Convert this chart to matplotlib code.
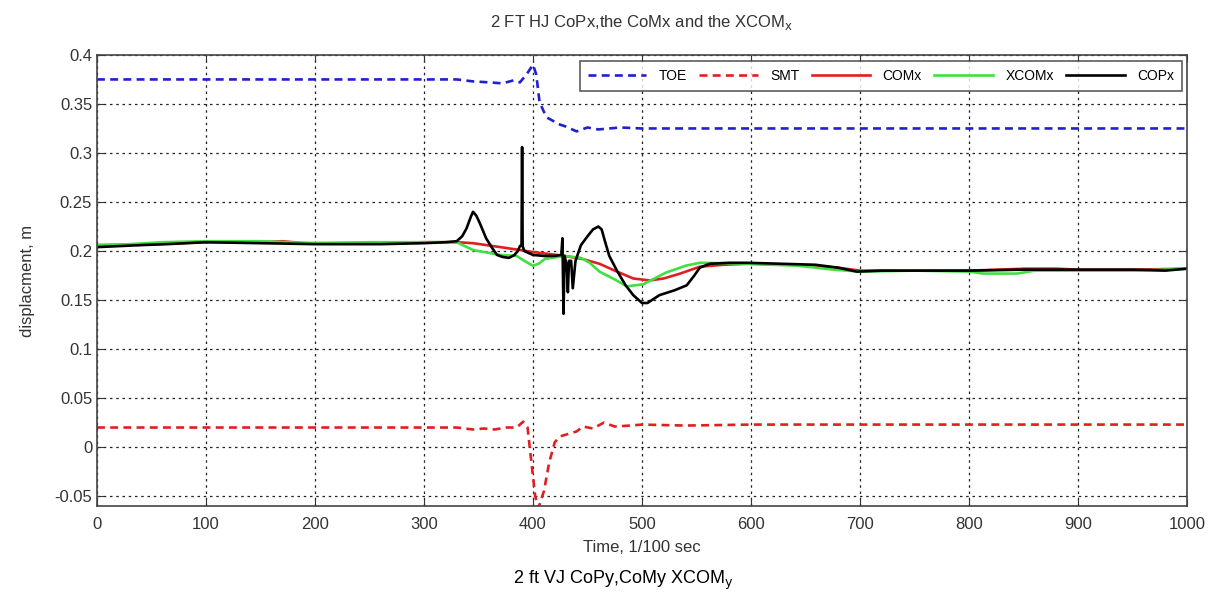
import matplotlib
matplotlib.use("Agg")
import matplotlib.pyplot as plt

plt.rcParams['font.family'] = ['Liberation Sans Narrow', 'Liberation Sans', 'DejaVu Sans']

# TOE (blue dashed)
t_toe = [0, 100, 200, 300, 330, 345, 360, 372, 382, 388, 394, 400, 403, 406, 410, 413, 418, 422, 430,
         440, 450, 460, 470, 480, 500, 600, 700, 800, 900, 1000]
toe = [0.375, 0.375, 0.375, 0.375, 0.375, 0.373, 0.372, 0.371, 0.374, 0.372, 0.380, 0.390, 0.380, 0.352,
       0.342, 0.336, 0.333, 0.330, 0.327, 0.322, 0.326, 0.324, 0.325, 0.326, 0.325, 0.325, 0.325, 0.325,
       0.325, 0.325]

# SMT (red dashed)
t_smt = [0, 100, 200, 300, 330, 345, 355, 365, 375, 385, 391, 395, 398, 402, 405, 410, 415, 420, 425,
         434, 440, 446, 455, 465, 475, 489, 500, 540, 600, 700, 800, 900, 1000]
smt = [0.020, 0.020, 0.020, 0.020, 0.020, 0.018, 0.019, 0.018, 0.020, 0.020, 0.026, 0.020, -0.010,
       -0.050, -0.062, -0.045, -0.015, 0.005, 0.011, 0.014, 0.016, 0.021, 0.019, 0.025, 0.021, 0.022,
       0.023, 0.022, 0.023, 0.023, 0.023, 0.023, 0.023]

# COMx (red solid)
t_com = [0, 50, 100, 150, 170, 190, 250, 300, 330, 345, 370, 400, 429, 445, 461, 475, 492, 507, 520,
         535, 553, 575, 597, 640, 680, 700, 750, 800, 852, 880, 900, 950, 1000]
com = [0.206, 0.207, 0.209, 0.209, 0.210, 0.208, 0.208, 0.209, 0.209, 0.208, 0.204, 0.199, 0.195,
       0.192, 0.187, 0.180, 0.172, 0.170, 0.172, 0.177, 0.184, 0.186, 0.187, 0.186, 0.183, 0.180,
       0.180, 0.180, 0.182, 0.182, 0.181, 0.181, 0.182]

# XCOMx (green solid)
t_xcom = [0, 30, 60, 100, 150, 200, 250, 300, 330, 345, 370, 385, 392, 400, 405, 411, 429, 444, 452,
          461, 475, 486, 501, 522, 540, 553, 597, 643, 676, 700, 750, 800, 813, 844, 860, 900, 950,
          981, 1000]
xcom = [0.206, 0.207, 0.209, 0.210, 0.210, 0.208, 0.209, 0.209, 0.209, 0.201, 0.196, 0.195, 0.190,
        0.185, 0.187, 0.192, 0.195, 0.193, 0.188, 0.179, 0.171, 0.164, 0.166, 0.178, 0.185, 0.188,
        0.187, 0.185, 0.181, 0.179, 0.180, 0.179, 0.177, 0.177, 0.180, 0.180, 0.180, 0.181, 0.182]

# COPx (black solid)
t_cop = [0, 20, 40, 64, 100, 150, 200, 260, 300, 320, 330, 335, 339, 343, 345, 348, 351, 357, 362,
         367, 372, 378, 383, 386, 388, 389.5, 390, 390.5, 392, 400, 410, 420, 426, 427, 428, 429, 431,
         432, 433, 435, 436.5, 439, 444, 450, 455, 460, 463, 466, 470, 477, 485, 492, 500, 505, 516,
         530, 541, 548, 553, 562, 580, 597, 628, 659, 680, 697, 720, 760, 800, 850, 900, 950, 980, 1000]
cop = [0.204, 0.205, 0.206, 0.207, 0.209, 0.208, 0.207, 0.207, 0.208, 0.209, 0.210, 0.215, 0.223,
       0.235, 0.240, 0.236, 0.229, 0.213, 0.204, 0.196, 0.194, 0.193, 0.196, 0.200, 0.205, 0.206,
       0.306, 0.205, 0.200, 0.196, 0.195, 0.195, 0.196, 0.213, 0.136, 0.195, 0.185, 0.158, 0.190,
       0.190, 0.162, 0.190, 0.206, 0.215, 0.222, 0.225, 0.222, 0.210, 0.195, 0.180, 0.165, 0.155,
       0.147, 0.147, 0.155, 0.160, 0.165, 0.175, 0.183, 0.187, 0.188, 0.188, 0.187, 0.186, 0.183,
       0.179, 0.180, 0.180, 0.180, 0.181, 0.181, 0.181, 0.180, 0.182]

fig = plt.figure(figsize=(12.08, 5.97), dpi=100)
ax = fig.add_axes([0.0803, 0.1525, 0.9023, 0.7555])

ax.plot(t_toe, toe, '--', color='#2020d0', lw=1.9, dashes=(3, 2), label='TOE')
ax.plot(t_smt, smt, '--', color='#e02020', lw=1.9, dashes=(3, 2), label='SMT')
ax.plot(t_com, com, '-', color='#e02020', lw=1.9, label='COMx')
ax.plot(t_xcom, xcom, '-', color='#40e040', lw=1.9, label='XCOMx')
ax.plot(t_cop, cop, '-', color='black', lw=1.9, label='COPx')

ax.set_xlim(0, 1000)
ax.set_ylim(-0.06, 0.4)
ax.set_xticks(range(0, 1001, 100))
ax.set_yticks([-0.05, 0, 0.05, 0.1, 0.15, 0.2, 0.25, 0.3, 0.35, 0.4])
ax.set_yticklabels(['-0.05', '0', '0.05', '0.1', '0.15', '0.2', '0.25', '0.3', '0.35', '0.4'])
ax.grid(True, color='#222222', linestyle=(0, (2, 3)), linewidth=0.9)
ax.tick_params(direction='in', top=True, right=True, labelsize=12, colors='#333333', length=5)
ax.tick_params(axis='x', pad=8)
for s in ax.spines.values():
    s.set_color('#444444')
    s.set_linewidth(1.2)

ax.set_xlabel('Time, 1/100 sec', fontsize=12, color='#333333', labelpad=6)
ax.set_ylabel('displacment, m', fontsize=12, color='#333333', labelpad=14)
ax.set_title(r'2 FT HJ CoPx,the CoMx and the XCOM$_\mathrm{x}$', fontsize=12, color='#333333', pad=20)

leg = ax.legend(loc='upper right', ncol=5, fontsize=10, handlelength=4.2, columnspacing=0.9,
                handletextpad=0.9, frameon=True, fancybox=False, borderaxespad=0.3,
                borderpad=0.55, bbox_to_anchor=(0.999, 0.995))
leg.get_frame().set_edgecolor('#333333')
leg.get_frame().set_linewidth(1.2)

fig.text(0.5155, 0.022, r'2 ft VJ CoPy,CoMy XCOM$_\mathrm{y}$', ha='center', fontsize=13, color='black')

fig.savefig('out.png', dpi=100)
